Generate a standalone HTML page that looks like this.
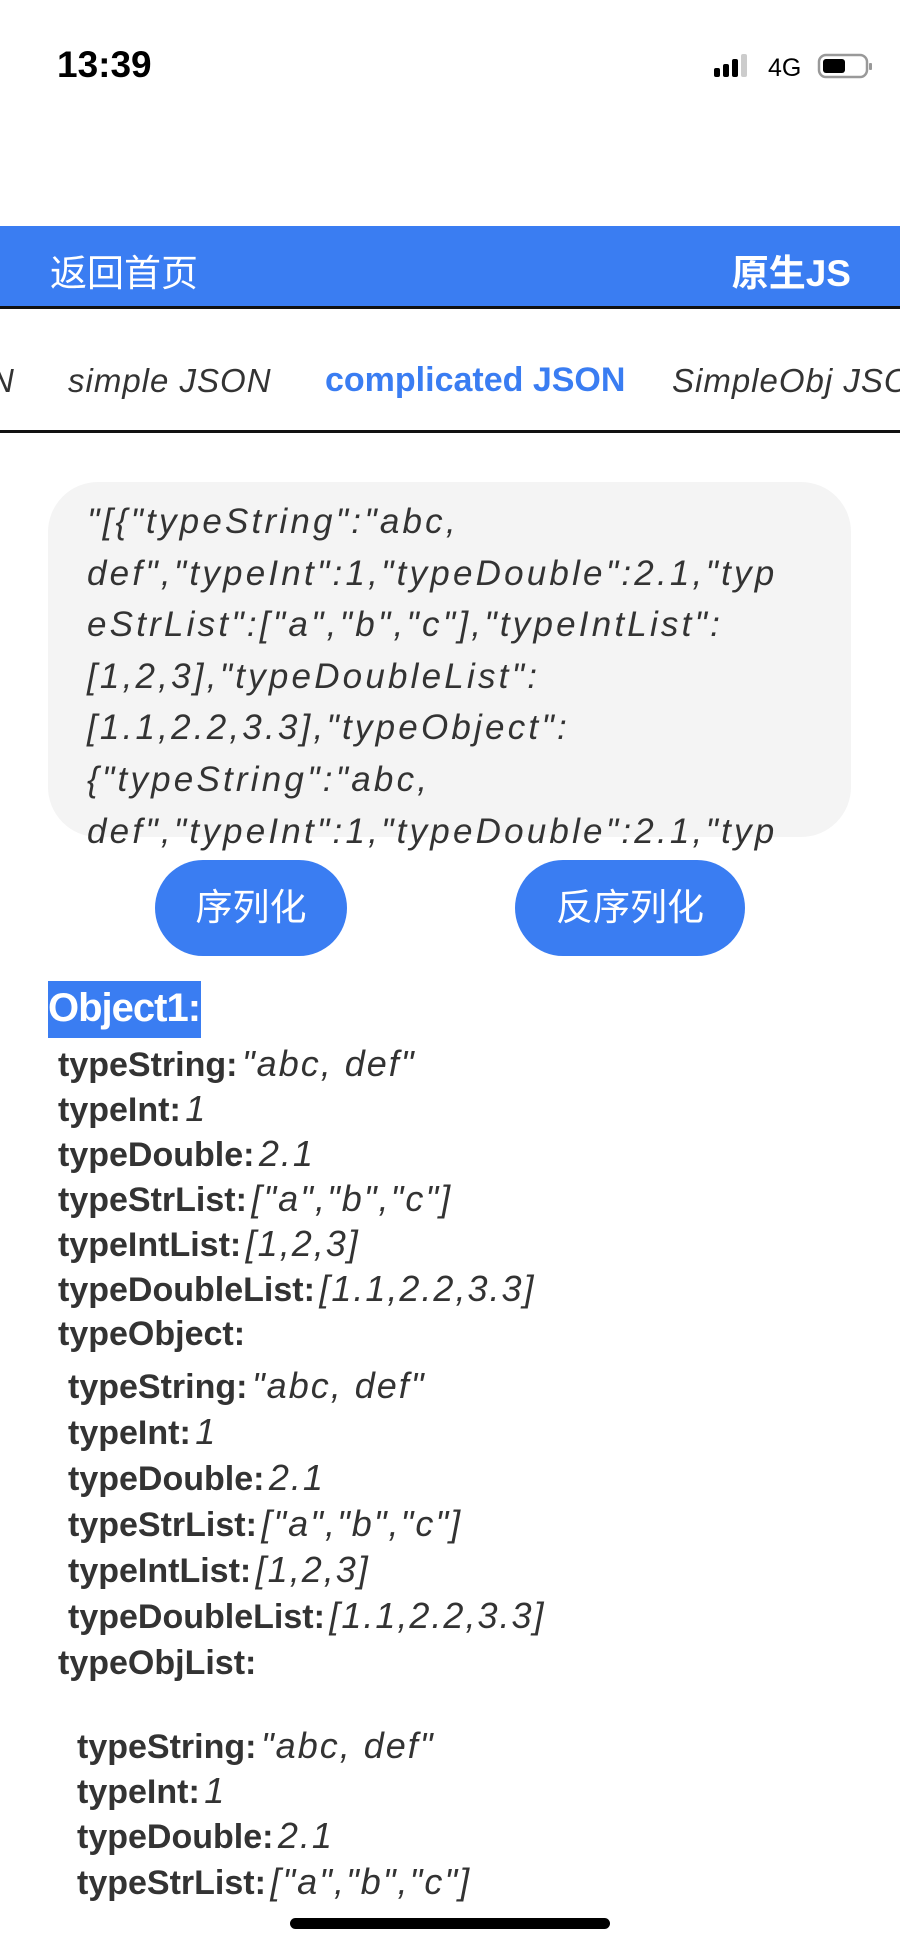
<!DOCTYPE html>
<html><head><meta charset="utf-8"><style>
body{margin:0;width:900px;height:1949px;background:#fff;position:relative;overflow:hidden;font-family:"Liberation Sans","Noto Sans CJK SC",sans-serif;color:#333}
.a{position:absolute;white-space:nowrap}
.k{font-weight:bold;color:#333;font-size:34px}
.v{font-style:italic;color:#333;font-size:36px;letter-spacing:2px}
.row{position:absolute;white-space:nowrap;line-height:38px}
</style></head><body>
<div class="a" style="left:57px;top:44px;font-size:37px;font-weight:bold;color:#000">13:39</div>
<svg class="a" style="left:714px;top:52px" width="160" height="30">
<rect x="0" y="16" width="6" height="9" rx="2" fill="#000"/>
<rect x="9" y="12" width="6" height="13" rx="2" fill="#000"/>
<rect x="18" y="7" width="6" height="18" rx="2" fill="#000"/>
<rect x="27" y="2" width="6" height="23" rx="2" fill="#ccc"/>
<text x="54" y="24" font-size="25" font-family="Liberation Sans" fill="#000">4G</text>
<rect x="105" y="3" width="48" height="22" rx="7" fill="none" stroke="#999" stroke-width="2.5"/>
<rect x="109" y="7" width="22" height="14" rx="3" fill="#000"/>
<rect x="155" y="11" width="3" height="7" rx="1" fill="#999"/>
</svg>
<div class="a" style="left:0;top:226px;width:900px;height:80px;background:#3a7df2;border-bottom:3px solid #111"></div>
<div class="a" style="left:50px;top:243px;font-size:37px;color:#fff">返回首页</div>
<div class="a" style="right:49px;top:243px;font-size:37px;color:#fff;font-weight:bold">原生JS</div>
<div class="a" style="left:-10px;top:362px;font-size:33px;font-style:italic;color:#333;letter-spacing:1px">N</div>
<div class="a" style="left:68px;top:362px;font-size:33px;font-style:italic;color:#333;letter-spacing:1px">simple JSON</div>
<div class="a" style="left:325px;top:361px;font-size:34px;font-weight:bold;color:#3a7df2;letter-spacing:0px">complicated JSON</div>
<div class="a" style="left:672px;top:362px;font-size:33px;font-style:italic;color:#333;letter-spacing:1px">SimpleObj JSON</div>
<div class="a" style="left:0;top:430px;width:900px;height:3px;background:#111"></div>
<div class="a" style="left:48px;top:482px;width:803px;height:355px;background:#f4f4f4;border-radius:50px"></div>
<div class="a" style="left:87px;top:496px;font-size:35px;line-height:51.6px;letter-spacing:3.2px;font-style:italic;color:#333;white-space:pre">"[{"typeString":"abc,
def","typeInt":1,"typeDouble":2.1,"typ
eStrList":["a","b","c"],"typeIntList":
[1,2,3],"typeDoubleList":
[1.1,2.2,3.3],"typeObject":
{"typeString":"abc,
def","typeInt":1,"typeDouble":2.1,"typ</div>
<div class="a" style="left:155px;top:860px;width:192px;height:96px;border-radius:48px;background:#3a7df2;color:#fff;font-size:37px;line-height:96px;text-align:center">序列化</div>
<div class="a" style="left:515px;top:860px;width:230px;height:96px;border-radius:48px;background:#3a7df2;color:#fff;font-size:37px;line-height:96px;text-align:center">反序列化</div>
<div class="a" style="left:48px;top:981px;width:153px;height:57px;background:#3a7df2;color:#fff;font-weight:bold;font-size:40px;line-height:54px;letter-spacing:-1px;overflow:hidden">Object1:</div>
<div class="row" style="left:58px;top:1045px"><span class="k">typeString:</span> <span class="v">"abc, def"</span></div>
<div class="row" style="left:58px;top:1090px"><span class="k">typeInt:</span> <span class="v">1</span></div>
<div class="row" style="left:58px;top:1135px"><span class="k">typeDouble:</span> <span class="v">2.1</span></div>
<div class="row" style="left:58px;top:1180px"><span class="k">typeStrList:</span> <span class="v">["a","b","c"]</span></div>
<div class="row" style="left:58px;top:1225px"><span class="k">typeIntList:</span> <span class="v">[1,2,3]</span></div>
<div class="row" style="left:58px;top:1270px"><span class="k">typeDoubleList:</span> <span class="v">[1.1,2.2,3.3]</span></div>
<div class="row" style="left:58px;top:1315px"><span class="k">typeObject:</span></div>
<div class="row" style="left:68px;top:1367px"><span class="k">typeString:</span> <span class="v">"abc, def"</span></div>
<div class="row" style="left:68px;top:1413px"><span class="k">typeInt:</span> <span class="v">1</span></div>
<div class="row" style="left:68px;top:1459px"><span class="k">typeDouble:</span> <span class="v">2.1</span></div>
<div class="row" style="left:68px;top:1505px"><span class="k">typeStrList:</span> <span class="v">["a","b","c"]</span></div>
<div class="row" style="left:68px;top:1551px"><span class="k">typeIntList:</span> <span class="v">[1,2,3]</span></div>
<div class="row" style="left:68px;top:1597px"><span class="k">typeDoubleList:</span> <span class="v">[1.1,2.2,3.3]</span></div>
<div class="row" style="left:58px;top:1644px"><span class="k">typeObjList:</span></div>
<div class="row" style="left:77px;top:1727px"><span class="k">typeString:</span> <span class="v">"abc, def"</span></div>
<div class="row" style="left:77px;top:1772px"><span class="k">typeInt:</span> <span class="v">1</span></div>
<div class="row" style="left:77px;top:1817px"><span class="k">typeDouble:</span> <span class="v">2.1</span></div>
<div class="row" style="left:77px;top:1863px"><span class="k">typeStrList:</span> <span class="v">["a","b","c"]</span></div>
<div class="a" style="left:290px;top:1918px;width:320px;height:11px;border-radius:6px;background:#000"></div>
</body></html>
